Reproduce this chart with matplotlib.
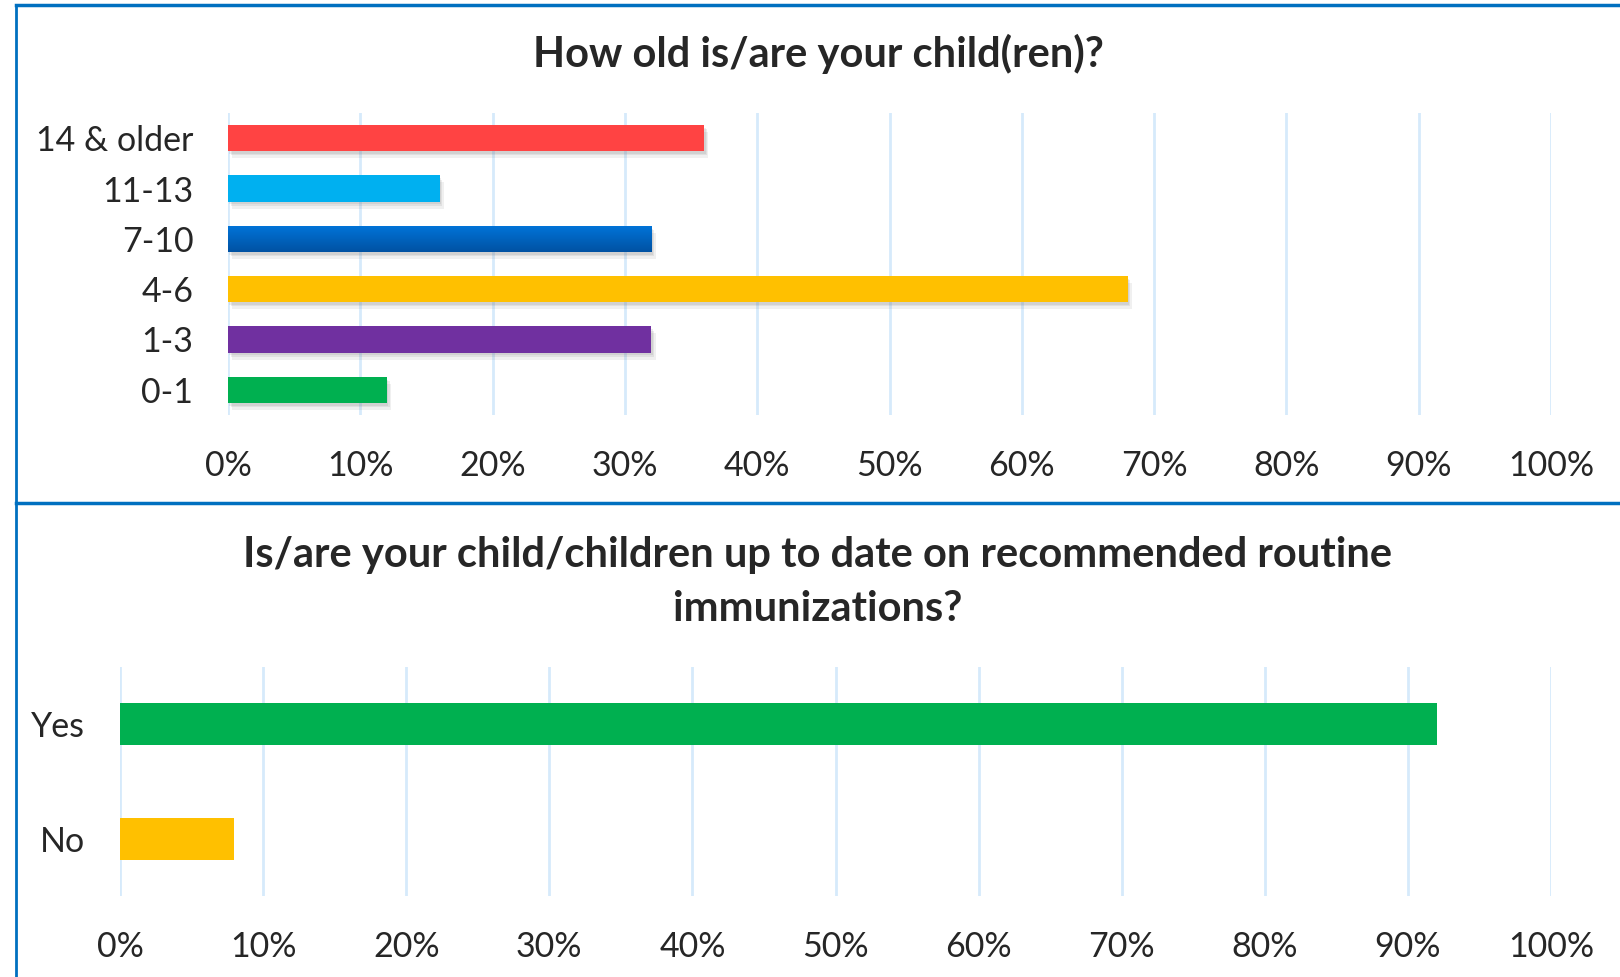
import matplotlib
matplotlib.use("Agg")
import matplotlib.pyplot as plt
import matplotlib.patheffects as pe
from matplotlib.lines import Line2D
from matplotlib.colors import LinearSegmentedColormap
import numpy as np

plt.rcParams['font.family'] = ['Lato', 'DejaVu Sans']

# ---- data ----
age_title = "How old is/are your child(ren)?"
age_categories = ["0-1", "1-3", "4-6", "7-10", "11-13", "14 & older"]
age_values = [12, 32, 68, 32, 16, 36]
age_colors = ["#00B050", "#7030A0", "#FFC000", "#0070C0", "#00B0F0", "#FF4343"]

imm_title = "Is/are your child/children up to date on recommended routine\nimmunizations?"
imm_categories = ["No", "Yes"]
imm_values = [8, 92]
imm_colors = ["#FFC000", "#00B050"]

xticks = list(range(0, 101, 10))
xticklabels = [f"{t}%" for t in xticks]

W, H = 1620, 977
fig = plt.figure(figsize=(W / 100, H / 100), dpi=100)

grid_color = "#D6EAFB"
text_color = "#262626"
border_color = "#0070C0"


def style_axes(ax, cats):
    ax.set_xlim(0, 100)
    ax.set_ylim(-0.5, len(cats) - 0.5)
    ax.set_xticks(xticks)
    ax.set_xticklabels(xticklabels)
    ax.set_yticks(range(len(cats)))
    ax.set_yticklabels(cats)
    ax.tick_params(axis='both', length=0, labelsize=24.5, colors=text_color)
    ax.tick_params(axis='x', pad=25)
    ax.tick_params(axis='y', pad=25)
    for s in ax.spines.values():
        s.set_visible(False)
    ax.xaxis.grid(True, color=grid_color, lw=2)
    ax.set_axisbelow(True)


shadow = [pe.SimplePatchShadow(offset=(1, -2), shadow_rgbFace='#707070', alpha=0.12),
          pe.SimplePatchShadow(offset=(2, -3), shadow_rgbFace='#707070', alpha=0.12),
          pe.SimplePatchShadow(offset=(3, -5), shadow_rgbFace='#707070', alpha=0.10),
          pe.Normal()]

# ---- top chart ----
ax1 = fig.add_axes([228 / W, 1 - 415 / H, (1551 - 228) / W, (415 - 113) / H])
bars = ax1.barh(range(len(age_categories)), age_values, height=0.52, color=age_colors,
                path_effects=shadow, zorder=3)
style_axes(ax1, age_categories)
# gradient on the 7-10 bar
b = bars[age_categories.index("7-10")]
grad = np.linspace(0, 1, 64).reshape(-1, 1)
cmap = LinearSegmentedColormap.from_list("bg", ["#0052A3", "#0074D9"])
im = ax1.imshow(grad, extent=[b.get_x(), b.get_x() + b.get_width(), b.get_y(), b.get_y() + b.get_height()],
                origin='lower', aspect='auto', cmap=cmap, zorder=4)
im.set_clip_path(b)
ax1.set_xlim(0, 100)
ax1.set_ylim(-0.5, len(age_categories) - 0.5)

fig.text(818 / W, 1 - 54 / H, age_title, ha='center', va='center', fontsize=30,
         fontweight='bold', color=text_color)

# ---- bottom chart ----
ax2 = fig.add_axes([120 / W, 1 - 896 / H, (1551 - 120) / W, (896 - 667) / H])
ax2.barh(range(len(imm_categories)), imm_values, height=0.37, color=imm_colors, zorder=3)
style_axes(ax2, imm_categories)

fig.text(818 / W, 1 - 582 / H, imm_title, ha='center', va='center', fontsize=30,
         fontweight='bold', color=text_color, linespacing=1.5)

# ---- frame lines ----
fig.add_artist(Line2D([16 / W, 1], [1 - 5 / H, 1 - 5 / H], color=border_color, lw=2.5, transform=fig.transFigure))
fig.add_artist(Line2D([16 / W, 1], [1 - 503 / H, 1 - 503 / H], color=border_color, lw=2.5, transform=fig.transFigure))
fig.add_artist(Line2D([16 / W, 16 / W], [0, 1 - 5 / H], color=border_color, lw=2, transform=fig.transFigure))

fig.savefig("out.png", dpi=100)
